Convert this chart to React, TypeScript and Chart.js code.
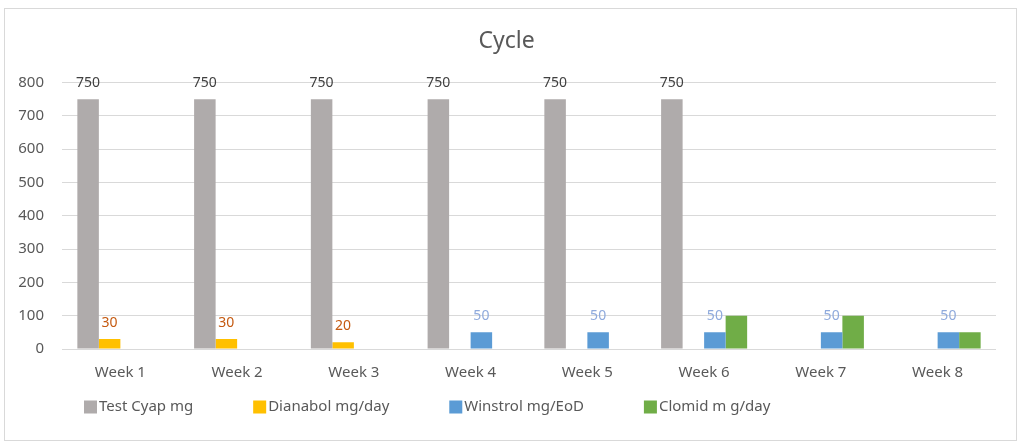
import React, { useEffect, useRef } from "react";
import { Chart, registerables } from "chart.js";

Chart.register(...registerables);

const categories = ["Week 1", "Week 2", "Week 3", "Week 4", "Week 5", "Week 6", "Week 7", "Week 8"];
const seriesNames = ["Test Cyap mg", "Dianabol mg/day", "Winstrol mg/EoD", "Clomid m g/day"];
const testCyap = [750, 750, 750, 750, 750, 750, null, null];
const dianabol = [30, 30, 20, null, null, null, null, null];
const winstrol = [null, null, null, 50, 50, 50, 50, 50];
const clomid = [null, null, null, null, null, 100, 100, 50];
const seriesColors = ["#afabab", "#ffc000", "#5b9bd5", "#70ad47"];
const labelColors = ["#404040", "#c55a11", "#8faadc", null];

const FONT = "'Noto Sans', sans-serif";

const dataLabelPlugin = {
  id: "dataLabels",
  afterDatasetsDraw(chart: any) {
    const ctx = chart.ctx;
    ctx.save();
    ctx.font = `14px ${FONT}`;
    ctx.textAlign = "center";
    ctx.textBaseline = "middle";
    chart.data.datasets.forEach((ds: any, di: number) => {
      const color = labelColors[di];
      if (!color) return;
      const meta = chart.getDatasetMeta(di);
      meta.data.forEach((el: any, i: number) => {
        const v = ds.data[i];
        if (v === null || v === undefined) return;
        ctx.fillStyle = color;
        ctx.fillText(String(v), el.x, el.y - 16);
      });
    });
    ctx.restore();
  },
};

const legendPlugin = {
  id: "customLegend",
  afterDraw(chart: any) {
    const ctx = chart.ctx;
    ctx.save();
    ctx.font = `15px ${FONT}`;
    ctx.textBaseline = "middle";
    ctx.textAlign = "left";
    let x = 79;
    const y = 398;
    chart.data.datasets.forEach((ds: any) => {
      ctx.fillStyle = ds.backgroundColor;
      ctx.fillRect(x, y - 6.5, 13, 13);
      x += 15;
      ctx.fillStyle = "#595959";
      ctx.fillText(ds.label, x, y);
      x += ctx.measureText(ds.label).width + 60;
    });
    ctx.restore();
  },
};

export default function App() {
  const ref = useRef<HTMLCanvasElement>(null);
  useEffect(() => {
    if (!ref.current) return;
    const values = [testCyap, dianabol, winstrol, clomid];
    const chart = new Chart(ref.current, {
      type: "bar",
      data: {
        labels: categories,
        datasets: seriesNames.map((name, i) => ({
          label: name,
          data: values[i],
          backgroundColor: seriesColors[i],
          categoryPercentage: 0.737,
          barPercentage: 1,
        })),
      },
      options: {
        animation: false,
        responsive: false,
        maintainAspectRatio: false,
        layout: { padding: { left: 12, right: 20, top: 0, bottom: 43 } },
        plugins: {
          legend: { display: false },
          tooltip: { enabled: false },
          title: {
            display: true,
            text: "Cycle",
            color: "#595959",
            font: { family: FONT, size: 23, weight: "normal" },
            padding: { top: 19, bottom: 27 },
          },
        },
        scales: {
          x: {
            grid: { display: false, drawTicks: false },
            border: { display: false },
            ticks: { color: "#595959", font: { family: FONT, size: 15 }, padding: 15 },
            afterFit: (scale: any) => {
              scale.paddingLeft = 0;
            },
          },
          y: {
            min: 0,
            max: 800,
            grid: { color: "#d9d9d9", drawTicks: false, lineWidth: 1 },
            border: { display: false },
            ticks: { stepSize: 100, color: "#595959", font: { family: FONT, size: 15 }, padding: 18 },
            afterFit: (scale: any) => {
              scale.width = 45;
            },
          },
        },
      },
      plugins: [dataLabelPlugin, legendPlugin],
    });
    return () => chart.destroy();
  }, []);

  return (
    <div style={{ position: "absolute", left: 0, top: 0, width: 1024, height: 448, background: "#fff" }}>
      <div
        style={{
          position: "absolute",
          left: 4,
          top: 8,
          width: 1011,
          height: 431,
          border: "1px solid #d9d9d9",
        }}
      >
        <canvas ref={ref} width={1011} height={431} style={{ display: "block", width: 1011, height: 431 }} />
      </div>
    </div>
  );
}
